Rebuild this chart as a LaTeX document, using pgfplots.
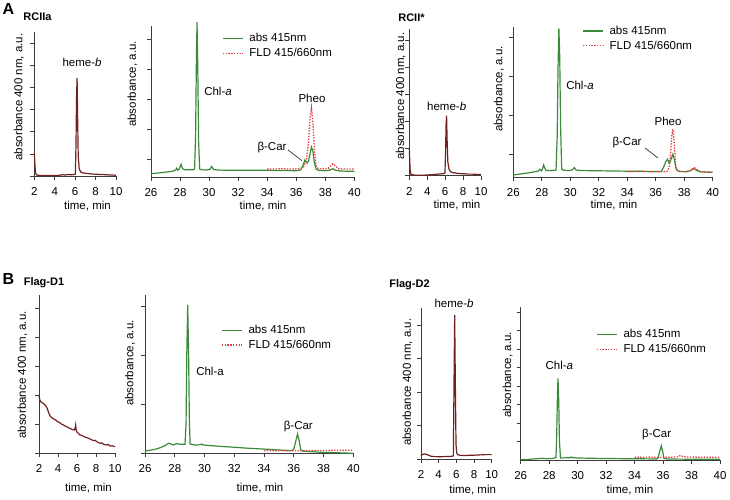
\documentclass[border=0pt]{standalone}
\usepackage{fontspec}
\setmainfont{Liberation Sans}
\usepackage{pgfplots}
\pgfplotsset{compat=1.18}
\definecolor{absgreen}{RGB}{58,138,58}
\definecolor{fldred}{RGB}{226,62,62}
\definecolor{hemered}{RGB}{112,32,32}
\definecolor{axisgray}{RGB}{60,60,60}
\newcommand{\lblfont}{\fontsize{11.5}{13}\selectfont}
\pgfplotsset{
  legend image code/.code={\draw[#1] (0pt,0pt) -- (20pt,0pt);},
}
\pgfplotsset{
  chrom/.style={
    scale only axis, anchor=south west,
    axis lines=left,
    axis line style={-, line width=0.8pt, axisgray},
    tick style={line width=0.8pt, axisgray},
    tick align=outside, major tick length=4pt,
    yticklabels={}, ymin=0, enlargelimits=false, clip=false,
    tick label style={font=\lblfont},
    /pgf/number format/assume math mode=true,
    xticklabel style={yshift=-4pt},
    xlabel={time, min},
  },
  small/.style={chrom, xmin=2, xmax=10, xtick={2,4,...,10},
    ylabel={absorbance 400 nm, a.u.}},
  big/.style={chrom, xmin=26, xmax=40, xtick={26,28,...,40},
    ylabel={absorbance, a.u.},
    legend cell align=left,
    legend style={draw=none, fill=none, inner sep=0pt, row sep=3pt,
      nodes={inner sep=1pt}, font=\lblfont,
      /tikz/every odd column/.append style={column sep=5pt}}},
  ylab/.style 2 args={every axis y label/.style={at={(axis description cs:0,#2)}, xshift=#1, rotate=90, anchor=center, font=\lblfont}},
  xlab/.style 2 args={every axis x label/.style={at={(axis description cs:#1,0)}, yshift=#2, anchor=center, font=\lblfont}},
  hemeplot/.style={hemered, line width=1.2pt},
  absplot/.style={absgreen, line width=1.2pt},
  fldplot/.style={fldred, line width=1.3pt, dash pattern=on 1.4pt off 1.4pt},
}
\begin{document}
\begin{tikzpicture}
\path[use as bounding box] (0,0) rectangle (730pt,499pt);

% ---------- A: RCIIa ----------
\begin{axis}[small, at={(34.3pt,323pt)}, width=81.7pt, height=144.3pt, ymax=144.3,
  ytick={0,22.1,44.2,66.3,88.4,110.5,132.6}, ylab={-15.3pt}{0.547}, xlab={0.651}{-30pt}]
\addplot[hemeplot] coordinates {
(2.0,22.7) (2.05,14) (2.1,5) (2.18,1.5) (2.3,0.8) (2.6,0.5) (3,0.5) (3.5,0.4) (4,0.5)
(4.5,0.7) (4.7,1.3) (5,1.0) (5.3,1.5) (5.6,1.2) (5.9,1.5) (6.02,2) (6.08,30) (6.14,80)
(6.19,98) (6.24,60) (6.3,20) (6.4,7) (6.55,4) (6.8,3) (7.2,2.5) (7.6,2) (8,1.8)
(8.5,1.5) (9,1.3) (9.5,1.0) (10,0.8)};
\end{axis}

\begin{axis}[big, at={(151pt,322pt)}, width=203.3pt, height=151pt, ymax=151,
  ytick={18,47.8,77.6,107.4,137.2}, ylab={-18.5pt}{0.616}, xlab={0.551}{-29pt},
  legend style={at={(0.349,0.868)}, anchor=west}]
\addplot[absplot] coordinates {
(26,3.3) (26.5,4) (27,4.8) (27.5,5.8) (27.7,7) (27.77,8.7) (27.85,6.8) (27.95,8)
(28.07,12.7) (28.17,8.5) (28.3,7.3) (28.6,7.2) (28.9,7.3) (29.0,8) (29.07,40)
(29.12,110) (29.17,155) (29.22,110) (29.28,35) (29.35,8) (29.5,7.2) (29.8,7)
(30.05,7.5) (30.18,10.5) (30.3,7.5) (30.6,7) (31,6.8) (32,6.7) (33,6.7) (34,6.7)
(35,6.5) (36,6.3) (36.3,7) (36.45,11) (36.6,17) (36.75,14) (36.85,16) (36.95,23)
(37.05,30) (37.15,26) (37.25,14) (37.38,7.5) (37.6,6.5) (38,6.3) (38.3,6.8)
(38.52,8.3) (38.7,6.8) (39,6) (39.5,5.8) (40,5.7)};
\addlegendentry{abs 415nm}
\addplot[fldplot] coordinates {
(34,8) (34.5,8) (35,8.3) (35.5,8) (36,8) (36.3,8.5) (36.5,10) (36.7,17) (36.85,35)
(36.95,58) (37.05,69) (37.15,55) (37.25,28) (37.35,12) (37.5,8.5) (37.8,8) (38.2,8.5)
(38.4,11.5) (38.53,13.3) (38.7,11) (38.9,8.3) (39.2,8) (39.6,8) (40,8)};
\addlegendentry{FLD 415/660nm}
\end{axis}

% ---------- A: RCII* ----------
\begin{axis}[small, at={(409.3pt,323.3pt)}, width=71.7pt, height=146.7pt, ymax=146.7,
  ytick={0,27.1,54.2,81.3,108.4,135.5}, ylab={-8.5pt}{0.543}, xlab={0.665}{-29.3pt}]
\addplot[hemeplot] coordinates {
(2.0,27.3) (2.05,15) (2.1,5) (2.18,1.5) (2.3,1) (2.6,0.6) (3,0.6) (3.5,0.5) (4,0.7)
(4.5,1.0) (5,1.4) (5.5,1.8) (5.85,2) (5.98,3) (6.05,25) (6.1,50) (6.16,60) (6.22,35)
(6.3,14) (6.42,6.7) (6.6,4) (6.9,3) (7.5,2.2) (8,2) (8.5,1.6) (9,1.6) (9.5,1.3) (10,1.2)};
\end{axis}

\begin{axis}[big, at={(513.3pt,321.7pt)}, width=199.4pt, height=150.3pt, ymax=150.3,
  ytick={23,61.9,100.8,139.7}, ylab={-14.3pt}{0.587}, xlab={0.505}{-27.7pt},
  legend style={at={(0.345,0.924)}, anchor=west}]
\addplot[absplot] coordinates {
(26,2.3) (26.5,3.3) (27,4.3) (27.5,5.5) (27.76,6.3) (27.87,8) (27.97,6.5) (28.05,8.5)
(28.13,12.3) (28.22,9) (28.3,6.8) (28.6,6.7) (29.0,7.2) (29.08,40) (29.14,110)
(29.2,149) (29.26,120) (29.32,50) (29.4,8) (29.55,7) (29.9,6.8) (30.15,7.5)
(30.29,9.7) (30.4,7.3) (30.7,6.8) (31,6.7) (32,6.5) (33,6.3) (34,6.1) (35,6) (36,5.7)
(36.4,6) (36.55,10) (36.7,15.5) (36.82,18) (36.95,14) (37.05,17) (37.2,23) (37.32,17)
(37.42,9) (37.55,6.3) (37.8,5.7) (38.2,5.6) (38.5,7) (38.69,9) (38.85,7) (39.1,5.5)
(39.5,5.2) (40,5)};
\addlegendentry{abs 415nm}
\addplot[fldplot] coordinates {
(34,5.7) (34.5,5.7) (35,6) (35.5,5.7) (36,5.5) (36.5,5.5) (36.8,6) (36.95,10)
(37.05,25) (37.13,42) (37.2,48) (37.27,40) (37.35,22) (37.42,9) (37.55,6) (38,5.7)
(38.4,6.5) (38.6,8.7) (38.7,9.7) (38.85,8) (39.1,6) (39.5,5.5) (40,5.3)};
\addlegendentry{FLD 415/660nm}
\end{axis}

% ---------- B: Flag-D1 ----------
\begin{axis}[small, at={(39pt,45.7pt)}, width=76pt, height=158.3pt, ymax=158.3,
  ytick={0,28.9,57.8,86.7,115.6,144.5}, ylab={-16.5pt}{0.495}, xlab={0.651}{-34.7pt}]
\addplot[hemeplot] coordinates {
(2,57.3) (2.1,53) (2.21,51.3) (2.35,50.5) (2.53,49.3) (2.7,47.5) (2.81,46) (2.9,44)
(2.98,41.7) (3.1,38.5) (3.2,37) (3.3,36) (3.44,35) (3.6,34) (3.75,33.5) (3.86,32.3)
(4.0,31.5) (4.2,30.5) (4.39,29) (4.55,28.5) (4.7,27.5) (4.91,26.7) (5.1,25.5)
(5.25,25) (5.44,24) (5.6,23.5) (5.72,23.3) (5.8,25) (5.86,28.3) (5.91,24) (5.96,21.7)
(6.1,20.5) (6.32,18.3) (6.5,18) (6.7,16.8) (7.02,15.7) (7.2,15) (7.4,14.2) (7.72,12.7)
(7.9,13) (8.1,11.5) (8.42,10) (8.6,10.5) (8.8,9) (9.12,8.3) (9.3,8.8) (9.5,7.2)
(9.7,7.5) (10,6.7)};
\end{axis}

\begin{axis}[big, at={(145pt,45.7pt)}, width=208.3pt, height=158.3pt, ymax=158.3,
  ytick={0,49,98,147}, ylab={-15pt}{0.57}, xlab={0.552}{-34.7pt},
  legend style={at={(0.365,0.731)}, anchor=west}]
\addplot[absplot] coordinates {
(26,2.3) (26.3,3) (26.67,4) (27,5.5) (27.35,7.7) (27.57,10) (27.75,9.3) (27.9,8.3)
(28.13,9.7) (28.3,9.2) (28.47,9) (28.69,9) (28.76,30) (28.81,100) (28.87,148.3)
(28.93,100) (28.98,35) (29.03,9.3) (29.36,8.3) (29.7,8.5) (29.81,9.3) (29.9,8.3)
(30.5,7.6) (31,7) (32.05,6) (33,5) (34.3,4) (35,3.3) (35.87,2.7) (36.0,4) (36.1,10)
(36.25,19.3) (36.37,12) (36.47,3.5) (36.6,2.2) (37,1.8) (37.88,1) (38.5,0.8) (39,0.5)
(40,0)};
\addlegendentry{abs 415nm}
\addplot[fldplot] coordinates {
(34,2.7) (35,2.7) (36,2.6) (37,2.7) (38,2.8) (39,3) (40,3)};
\addlegendentry{FLD 415/660nm}
\end{axis}

% ---------- B: Flag-D2 ----------
\begin{axis}[small, at={(421pt,39.7pt)}, width=70.7pt, height=151pt, ymax=151,
  ytick={0,33.6,67.2,100.8,134.4}, ylab={-13.5pt}{0.51}, xlab={0.731}{-30.7pt}]
\addplot[hemeplot] coordinates {
(2,3.7) (2.19,5) (2.45,5.3) (2.65,4.8) (2.83,4.3) (3.0,3.5) (3.2,3) (3.5,2.7)
(3.77,2.7) (4.1,2.5) (4.53,2.7) (5,2.8) (5.47,3) (5.66,3.5) (5.74,80) (5.81,144.3)
(5.88,80) (5.96,15) (6.04,6) (6.2,4.5) (6.42,4) (7,3.8) (7.36,4) (8,4.1) (8.3,4.3)
(9,4.5) (9.25,4.7) (10,4.7)};
\end{axis}

\begin{axis}[big, at={(520.7pt,39pt)}, width=199.3pt, height=153.3pt, ymax=153.3,
  ytick={18.5,37,55.5,74,92.5,111,129.5,148}, ylab={-13pt}{0.555}, xlab={0.548}{-30pt},
  legend style={at={(0.378,0.770)}, anchor=west}]
\addplot[absplot] coordinates {
(26,0.3) (26.66,0.7) (27.12,1.3) (27.48,1.7) (27.83,1.3) (28.3,1.7) (28.48,2.5)
(28.53,25) (28.58,65) (28.62,81.7) (28.67,60) (28.72,20) (28.79,2) (29.2,2.2)
(29.47,2.3) (29.55,3) (29.65,2.3) (30,2) (31.1,1.7) (32,1.5) (33.45,1.3) (34.5,1.2)
(35.55,1) (35.65,2) (35.75,8) (35.88,14.3) (35.98,8) (36.07,1.5) (36.3,1) (37,0.9)
(38,0.8) (39,0.8) (40,0.7)};
\addlegendentry{abs 415nm}
\addplot[fldplot] coordinates {
(34,2.7) (34.5,2.7) (35,2.9) (35.5,2.7) (36,2.6) (36.5,2.8) (37,3) (37.24,4.7)
(37.4,3.3) (37.8,3) (38.5,2.8) (39,2.9) (39.5,2.7) (40,2.7)};
\addlegendentry{FLD 415/660nm}
\end{axis}

% ---------- panel titles and peak labels ----------
\begin{scope}[every node/.style={inner sep=0pt, anchor=center, font=\lblfont}]
\node[font=\fontsize{16}{18}\selectfont\bfseries] at (8.3pt,489.8pt) {A};
\node[font=\fontsize{11}{13}\selectfont\bfseries] at (37.5pt,482pt) {RCIIa};
\node at (82pt,437pt) {heme-\textit{b}};
\node at (218pt,408pt) {Chl-\textit{a}};
\node at (312pt,401pt) {Pheo};
\node at (272pt,351pt) {β-Car};
\draw[black!80, line width=0.7pt] (288pt,349pt) -- (302pt,338.3pt);

\node[font=\fontsize{11}{13}\selectfont\bfseries] at (411.5pt,481pt) {RCII*};
\node at (446.7pt,393pt) {heme-\textit{b}};
\node at (580pt,414pt) {Chl-\textit{a}};
\node at (668pt,378pt) {Pheo};
\node at (627pt,356.3pt) {β-Car};
\draw[black!80, line width=0.7pt] (645pt,351pt) -- (658pt,341pt);

\node[font=\fontsize{16}{18}\selectfont\bfseries] at (8.3pt,220pt) {B};
\node[font=\fontsize{11}{13}\selectfont\bfseries] at (44pt,216pt) {Flag-D1};
\node at (210pt,127.3pt) {Chl-a};
\node at (298.3pt,72.3pt) {β-Car};

\node[font=\fontsize{11}{13}\selectfont\bfseries] at (409.5pt,214pt) {Flag-D2};
\node at (454pt,195.7pt) {heme-\textit{b}};
\node at (559.3pt,134pt) {Chl-\textit{a}};
\node at (656.7pt,64pt) {β-Car};
\end{scope}
\end{tikzpicture}
\end{document}
